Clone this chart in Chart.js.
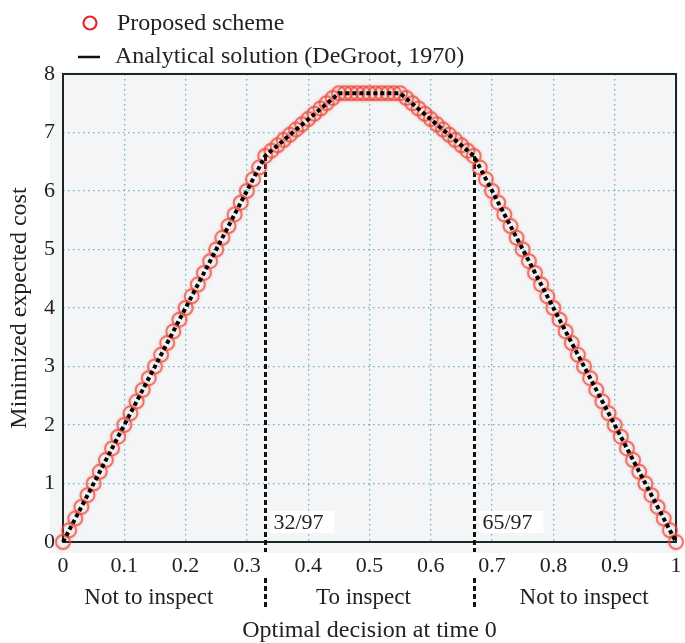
<!DOCTYPE html>
<html>
<head>
<meta charset="utf-8">
<script src="https://cdn.jsdelivr.net/npm/chart.js@4.4.0/dist/chart.umd.min.js"></script>
<style>
  html, body { margin: 0; padding: 0; background: #fff; }
</style>
</head>
<body>
<canvas id="cost-chart" width="685" height="643"></canvas>
<script>
// prior probability grid used by the numerical scheme
const probs = [
  0.00, 0.01, 0.02, 0.03, 0.04, 0.05, 0.06, 0.07, 0.08, 0.09,
  0.10, 0.11, 0.12, 0.13, 0.14, 0.15, 0.16, 0.17, 0.18, 0.19,
  0.20, 0.21, 0.22, 0.23, 0.24, 0.25, 0.26, 0.27, 0.28, 0.29,
  0.30, 0.31, 0.32, 0.33, 0.34, 0.35, 0.36, 0.37, 0.38, 0.39,
  0.40, 0.41, 0.42, 0.43, 0.44, 0.45, 0.46, 0.47, 0.48, 0.49,
  0.50, 0.51, 0.52, 0.53, 0.54, 0.55, 0.56, 0.57, 0.58, 0.59,
  0.60, 0.61, 0.62, 0.63, 0.64, 0.65, 0.66, 0.67, 0.68, 0.69,
  0.70, 0.71, 0.72, 0.73, 0.74, 0.75, 0.76, 0.77, 0.78, 0.79,
  0.80, 0.81, 0.82, 0.83, 0.84, 0.85, 0.86, 0.87, 0.88, 0.89,
  0.90, 0.91, 0.92, 0.93, 0.94, 0.95, 0.96, 0.97, 0.98, 0.99,
  1.00
];
const proposedCost = [
  0.00, 0.20, 0.40, 0.60, 0.80, 1.00, 1.20, 1.40, 1.60, 1.80,
  2.00, 2.20, 2.40, 2.60, 2.80, 3.00, 3.20, 3.40, 3.60, 3.80,
  4.00, 4.20, 4.40, 4.60, 4.80, 5.00, 5.20, 5.40, 5.60, 5.80,
  6.00, 6.20, 6.40, 6.60, 6.69, 6.78, 6.87, 6.96, 7.05, 7.14,
  7.23, 7.32, 7.41, 7.50, 7.59, 7.67, 7.67, 7.67, 7.67, 7.67,
  7.67, 7.67, 7.67, 7.67, 7.67, 7.67, 7.59, 7.50, 7.41, 7.32,
  7.23, 7.14, 7.05, 6.96, 6.87, 6.78, 6.69, 6.60, 6.40, 6.20,
  6.00, 5.80, 5.60, 5.40, 5.20, 5.00, 4.80, 4.60, 4.40, 4.20,
  4.00, 3.80, 3.60, 3.40, 3.20, 3.00, 2.80, 2.60, 2.40, 2.20,
  2.00, 1.80, 1.60, 1.40, 1.20, 1.00, 0.80, 0.60, 0.40, 0.20,
  0.00
];

// corners of the analytical cost curve
const exactProbs = [0, 32 / 97, 0.45, 0.55, 65 / 97, 1];
const exactCost = [0, 6.6, 7.67, 7.67, 6.6, 0];

const thresholds = [32 / 97, 65 / 97];
const thresholdCost = [6.6, 6.6];
const thresholdLabels = ["32/97", "65/97"];

const decisionLabels = ["Not to inspect", "To inspect", "Not to inspect"];
const decisionAt = [0.14, 0.49, 0.85];

const xTicks = [0, 0.1, 0.2, 0.3, 0.4, 0.5, 0.6, 0.7, 0.8, 0.9, 1];
const yTicks = [0, 1, 2, 3, 4, 5, 6, 7, 8];
const legendLabels = ["Proposed scheme", "Analytical solution (DeGroot, 1970)"];

const SERIF = "'Liberation Serif', 'Times New Roman', serif";
const INK = "#222";
const CIRCLE_RED = "rgba(236, 70, 55, 0.68)";

const decor = {
  id: "decor",
  beforeDraw(chart) {
    const { ctx, chartArea: a } = chart;
    ctx.save();
    ctx.fillStyle = "#f3f5f7";
    ctx.fillRect(a.left - 13, a.top - 2, a.right - a.left + 15, a.bottom - a.top + 13);
    ctx.restore();
  },
  beforeDatasetsDraw(chart) {
    const { ctx, chartArea: a, scales } = chart;
    ctx.save();

    // plot frame
    ctx.strokeStyle = "#1b2626";
    ctx.lineWidth = 2;
    ctx.strokeRect(a.left, a.top, a.right - a.left, a.bottom - a.top);

    // decision thresholds
    thresholds.forEach((t, i) => {
      const x = Math.round(scales.x.getPixelForValue(t)) + 0.5;
      const yTop = scales.y.getPixelForValue(thresholdCost[i]);
      const runs = [[yTop, a.bottom + 10], [a.bottom + 36, a.bottom + 65]];
      runs.forEach(([y0, y1]) => {
        ctx.setLineDash([]);
        ctx.strokeStyle = "#fff";
        ctx.lineWidth = 3;
        ctx.beginPath();
        ctx.moveTo(x, y0);
        ctx.lineTo(x, y1);
        ctx.stroke();
        ctx.setLineDash([5, 3]);
        ctx.strokeStyle = "#111";
        ctx.beginPath();
        ctx.moveTo(x, y0);
        ctx.lineTo(x, y1);
        ctx.stroke();
      });

      ctx.setLineDash([]);
      ctx.fillStyle = "#fff";
      ctx.fillRect(x + 5, a.bottom - 31, 64, 22);
      ctx.fillStyle = INK;
      ctx.font = "22px " + SERIF;
      ctx.textAlign = "left";
      ctx.textBaseline = "alphabetic";
      ctx.fillText(thresholdLabels[i], x + 8, a.bottom - 13);
    });
    ctx.restore();
  },
  // soft halo round the scheme's circles
  beforeDatasetDraw(chart, args) {
    if (args.index !== 1) return;
    chart.ctx.save();
    chart.ctx.shadowColor = "rgba(240, 90, 70, 0.55)";
    chart.ctx.shadowBlur = 3;
  },
  afterDatasetDraw(chart, args) {
    if (args.index !== 1) return;
    chart.ctx.restore();
  },
  afterDraw(chart) {
    const { ctx, chartArea: a, scales } = chart;
    ctx.save();
    ctx.fillStyle = INK;
    ctx.textBaseline = "alphabetic";

    // decision regions under the axis
    ctx.font = "23px " + SERIF;
    ctx.textAlign = "center";
    decisionLabels.forEach((label, i) => {
      ctx.fillText(label, scales.x.getPixelForValue(decisionAt[i]), a.bottom + 62);
    });

    // legend
    ctx.font = "24px " + SERIF;
    ctx.textAlign = "left";
    ctx.strokeStyle = "#e8242b";
    ctx.lineWidth = 2.2;
    ctx.beginPath();
    ctx.arc(90, 23, 6.5, 0, Math.PI * 2);
    ctx.stroke();
    ctx.fillText(legendLabels[0], 117, 30);

    ctx.strokeStyle = "#111";
    ctx.lineWidth = 2.5;
    ctx.beginPath();
    ctx.moveTo(78, 57);
    ctx.lineTo(100, 57);
    ctx.stroke();
    ctx.fillText(legendLabels[1], 115, 63);
    ctx.restore();
  }
};

new Chart(document.getElementById("cost-chart"), {
  type: "line",
  data: {
    datasets: [
      {
        label: legendLabels[1],
        data: exactProbs.map((p, i) => ({ x: p, y: exactCost[i] })),
        borderColor: "#000",
        borderWidth: 4,
        borderDash: [4, 3],
        pointRadius: 0,
        tension: 0,
        clip: false,
        order: 0
      },
      {
        label: legendLabels[0],
        data: probs.map((p, i) => ({ x: p, y: proposedCost[i] })),
        showLine: false,
        pointStyle: "circle",
        pointRadius: 7,
        pointBorderWidth: 2,
        pointBorderColor: CIRCLE_RED,
        pointBackgroundColor: "rgba(0,0,0,0)",
        clip: false,
        order: 1
      }
    ]
  },
  options: {
    responsive: false,
    animation: false,
    events: [],
    layout: {
      padding: { top: 74, right: 7, bottom: 0, left: 0 }
    },
    plugins: {
      legend: { display: false },
      tooltip: { enabled: false }
    },
    scales: {
      x: {
        type: "linear",
        min: 0,
        max: 1,
        afterBuildTicks(scale) {
          scale.ticks = xTicks.map(v => ({ value: v }));
        },
        afterFit(scale) {
          scale.height = 101;
          scale.paddingLeft = 0;
          scale.paddingRight = 0;
        },
        ticks: {
          color: INK,
          padding: 11,
          maxRotation: 0,
          font: { family: SERIF, size: 22 },
          callback: v => String(v)
        },
        grid: {
          color: "#6fb0cc",
          lineWidth: 1.3,
          drawTicks: false
        },
        border: { display: false, dash: [1.5, 3.5] },
        title: {
          display: true,
          text: "Optimal decision at time 0",
          color: INK,
          font: { family: SERIF, size: 24, lineHeight: 1 },
          padding: { top: 0, bottom: 0 }
        }
      },
      y: {
        type: "linear",
        min: 0,
        max: 8,
        afterBuildTicks(scale) {
          scale.ticks = yTicks.map(v => ({ value: v }));
        },
        afterFit(scale) {
          scale.width = 63;
        },
        ticks: {
          color: INK,
          padding: 8,
          font: { family: SERIF, size: 22 },
          callback: v => String(v)
        },
        grid: {
          color: "#6fb0cc",
          lineWidth: 1.3,
          drawTicks: false
        },
        border: { display: false, dash: [1.5, 3.5] },
        title: {
          display: true,
          text: "Minimized expected cost",
          color: INK,
          font: { family: SERIF, size: 24, lineHeight: 1 },
          padding: { top: 8, bottom: 0 }
        }
      }
    }
  },
  plugins: [decor]
});
</script>
</body>
</html>
